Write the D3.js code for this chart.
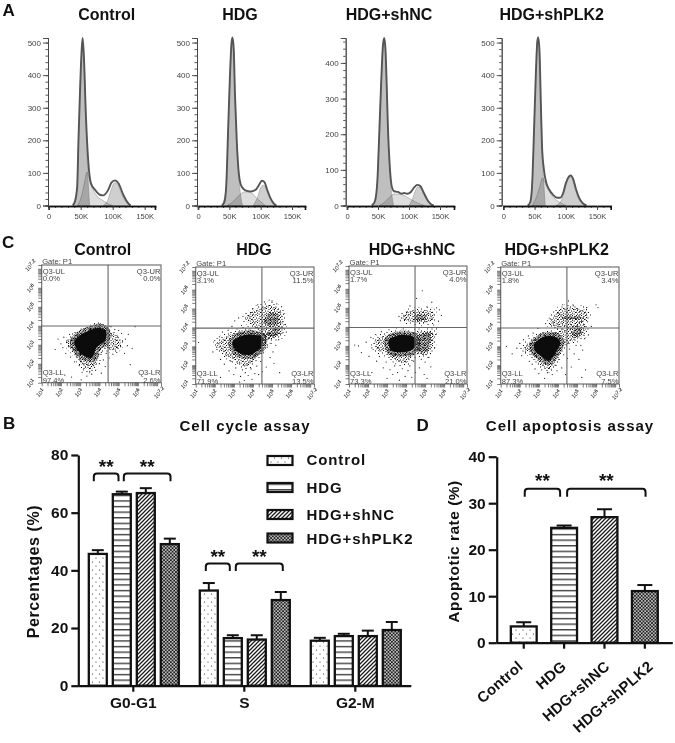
<!DOCTYPE html>
<html><head><meta charset="utf-8">
<script src="https://cdn.jsdelivr.net/npm/d3@7/dist/d3.min.js"></script>
<style>
html,body{margin:0;padding:0;background:#fff}
svg{display:block;font-family:"Liberation Sans",Arial,sans-serif}
.soft{filter:blur(.3px)}
.softer{filter:blur(.5px)}
</style></head><body>
<div id="chart"></div>
<script>
// ---------- shared categories ----------
const treatments = ["Control","HDG","HDG+shNC","HDG+shPLK2"];
const phases = ["G0-G1","S","G2-M"];

// ---------- panel B: cell cycle (%) by phase ----------
const cycleControl = [45.7,33.0,15.6];
const cycleHDG     = [66.4,16.5,17.2];
const cycleShNC    = [66.8,16.0,17.2];
const cycleShPLK2  = [49.1,29.7,19.3];
const cycleErrControl = [1.3,2.6,1.0];
const cycleErrHDG     = [0.9,1.0,0.8];
const cycleErrShNC    = [1.7,1.5,1.9];
const cycleErrShPLK2  = [1.9,2.8,2.8];

// ---------- panel D: apoptotic rate (%) ----------
const apoptosisRate = [3.5,24.7,27.0,11.1];
const apoptosisErr  = [0.9,0.5,1.7,1.3];

// ---------- panel A: DNA histograms, [signal in K, count] ----------
const histTotalControl = [[37.5,0],[41,12],[44.5,58],[46.5,200],[49,355],[51.5,477],[53,514],[55,457],[58,283],[62,130],[66,68],[72.5,48],[80,33],[85,31],[93,48],[98,70],[103.6,77],[109,68],[116.5,33],[124,7],[128,0]];
const histG1Control    = [[38,0],[44,50],[47,220],[49,350],[51.5,470],[53,505],[55,450],[58,280],[60,150],[62,60],[64,0]];
const histSControl     = [[45,0],[50,20],[55,60],[60,103],[63,85],[68,55],[75,30],[85,15],[95,3],[100,0]];
const histG2Control    = [[85,0],[92,15],[98,50],[103,70],[108,65],[112,45],[118,18],[125,3],[128,0]];

const histTotalHDG = [[38,0],[42,10],[45,60],[48,230],[51,400],[53.5,500],[55,516],[57,480],[59,340],[62,190],[65,100],[68,65],[72,52],[78,45],[85,43],[92,48],[97,62],[102,76],[106,72],[110,50],[115,25],[120,8],[125,0]];
const histG1HDG    = [[38,0],[45,55],[48,225],[51,395],[53.5,495],[55,510],[57,475],[59,335],[62,185],[65,90],[68,30],[71,0]];
const histSHDG     = [[46,0],[55,10],[65,30],[75,42],[85,38],[95,20],[107,0]];
const histG2HDG    = [[88,0],[95,25],[100,55],[104,62],[108,55],[113,30],[120,8],[125,0]];

const histTotalShNC = [[40,0],[45,12],[49,70],[52,200],[55,340],[58,450],[60,470],[62,440],[64,340],[66,220],[69,110],[72,55],[76,40],[82,38],[88,33],[92,35],[97,33],[103,38],[109,52],[113,58],[118,55],[124,35],[130,15],[136,3],[140,0]];
const histG1ShNC    = [[40,0],[45,10],[49,65],[52,195],[55,335],[58,445],[60,465],[62,435],[64,335],[66,215],[69,100],[72,35],[75,0]];
const histSShNC     = [[52,0],[60,8],[68,22],[76,32],[84,32],[92,28],[100,20],[110,10],[125,0]];
const histG2ShNC    = [[100,0],[106,20],[110,40],[114,52],[118,50],[124,32],[130,13],[136,2],[140,0]];

const histTotalShPLK2 = [[39,0],[43,10],[46,60],[49,220],[52,400],[54.5,505],[56,516],[58,470],[60,320],[62,180],[65,110],[68,75],[73,50],[80,32],[86,24],[91,24],[96,40],[100,68],[104,86],[108,92],[112,80],[116,52],[121,25],[127,7],[133,0]];
const histG1ShPLK2    = [[39,0],[43,8],[46,55],[49,215],[52,395],[54.5,500],[56,510],[58,465],[60,315],[62,170],[65,60],[67,0]];
const histSShPLK2     = [[46,0],[52,20],[58,55],[63,85],[66,72],[72,48],[80,25],[90,10],[100,0]];
const histG2ShPLK2    = [[84,0],[92,12],[98,45],[103,78],[107,88],[111,78],[115,50],[120,22],[127,5],[132,0]];

// ---------- panel C: flow cytometry, quadrant readouts ----------
const quadUL = ["0.0%","3.1%","1.7%","1.8%"];
const quadUR = ["0.0%","11.5%","4.0%","3.4%"];
const quadLL = ["97.4%","71.9%","73.3%","87.3%"];
const quadLR = ["2.6%","13.5%","21.0%","7.5%"];

// panel C: read-off outlines of the dense clouds and individually visible events,
// in log10 units of each axis [x,y]
const coreControl = [[2.75,3.13],[3.01,3.43],[3.45,3.66],[3.97,3.83],[4.29,3.66],[4.23,3.25],[3.80,2.90],[3.57,2.37],[3.24,2.46],[2.92,2.73]];
const denseControl = [];
const haloControl = [[[2.31,3.08],[2.75,3.52],[3.45,3.83],[4.06,4.01],[4.71,3.61],[5.11,3.13],[4.85,2.73],[4.15,2.81],[3.88,2.11],[3.53,1.67],[3.10,1.93],[2.75,2.55]]];
const eventsControl = [[1.7,2.75],[1.85,3.3],[2.0,3.05],[2.1,2.85],[2.15,3.4],[2.25,2.55],[2.3,3.2],[2.4,2.9],[2.45,3.55],[2.5,2.35],[2.55,3.35],[2.6,2.65],[2.7,2.1],[2.8,2.4],[2.85,3.65],[2.95,1.9],[3.0,2.2],[3.1,1.55],[3.2,1.75],[3.2,3.85],[3.35,1.35],[3.4,1.95],[3.5,1.6],[3.6,1.45],[3.55,3.95],[3.7,1.9],[3.75,2.25],[3.8,1.65],[3.9,2.35],[4.0,2.0],[4.05,4.1],[4.1,2.6],[4.2,2.2],[4.3,1.85],[4.35,2.55],[4.4,3.9],[4.5,2.3],[4.55,2.75],[4.6,3.95],[4.7,2.5],[4.75,3.0],[4.8,3.8],[4.9,2.6],[4.95,3.45],[5.0,3.75],[5.1,2.9],[5.15,3.6],[5.2,3.2],[5.3,2.55],[5.35,3.3],[5.45,2.95],[5.5,3.55],[5.6,1.95],[5.7,2.8],[3.05,1.15],[2.55,1.3],[2.2,1.4],[4.1,1.5],[5.85,3.95]];

const coreHDG = [[2.98,3.17],[3.33,3.46],[3.94,3.55],[4.46,3.43],[4.37,2.99],[3.94,2.64],[3.5,2.64],[3.15,2.81]];
const denseHDG = [[[4.58,4.45],[4.93,4.75],[5.28,4.70],[5.34,4.22],[5.07,4.10],[4.69,4.17]],
                  [[4.76,3.69],[5.16,3.92],[5.42,3.92],[5.25,3.61],[4.86,3.52]]];
const haloHDG = [[[2.10,3.17],[2.80,3.61],[3.59,3.87],[4.37,3.78],[4.76,3.52],[4.55,2.90],[4.11,2.29],[3.59,1.93],[3.15,2.20],[2.45,2.64]],
                 [[3.59,4.49],[4.11,4.93],[4.81,5.19],[5.42,4.93],[5.60,4.22],[5.51,3.61],[4.72,3.34],[4.29,3.87],[3.85,4.22]]];
const eventsHDG = [[1.15,3.2],[1.9,2.7],[2.0,3.3],[2.1,2.95],[2.25,3.5],[2.3,2.3],[2.4,3.75],[2.5,2.05],[2.6,2.5],[2.7,3.85],[2.75,1.7],[2.85,2.2],[2.9,4.05],[3.0,1.5],[3.05,4.35],[3.1,1.85],[3.2,2.1],[3.25,4.5],[3.35,1.4],[3.4,4.1],[3.45,1.75],[3.55,1.2],[3.6,1.6],[3.7,2.0],[3.75,1.45],[3.8,4.6],[3.9,1.8],[3.95,1.25],[4.0,5.0],[4.1,1.55],[4.2,1.95],[4.25,5.2],[4.3,1.5],[4.4,2.2],[4.5,1.65],[4.55,2.65],[4.6,5.35],[4.7,1.9],[4.75,2.95],[4.85,5.45],[4.9,2.4],[4.95,3.15],[5.0,5.4],[5.05,2.7],[5.2,3.05],[5.25,5.25],[5.35,3.35],[5.5,5.1],[5.6,4.7],[5.7,4.15],[5.75,3.75],[3.3,1.1],[2.3,1.35],[5.1,2.1],[5.4,1.6]];

const coreShNC = [[3.15,3.29],[3.76,3.52],[4.37,3.43],[4.46,3.08],[4.2,2.81],[3.59,2.73],[3.24,2.81]];
const denseShNC = [[[4.43,3.43],[5.25,3.69],[5.25,3.17],[4.99,2.64],[4.55,2.81]],
                   [[4.46,4.57],[4.99,4.63],[5.02,4.40],[4.55,4.36]]];
const haloShNC = [[[2.36,3.25],[3.06,3.61],[4.11,3.69],[5.34,3.78],[5.42,3.17],[5.16,2.55],[4.46,2.55],[4.02,2.11],[3.5,2.20],[2.89,2.64],[2.45,2.81]],
                  [[3.76,4.57],[4.29,4.84],[5.34,4.84],[5.42,4.40],[4.99,4.22],[4.02,4.31]]];
const eventsShNC = [[1.5,3.0],[1.65,2.65],[1.9,3.2],[2.05,2.45],[2.15,3.45],[2.2,2.9],[2.4,3.6],[2.45,2.2],[2.6,2.45],[2.7,3.75],[2.8,1.85],[2.95,2.15],[3.0,1.3],[3.1,3.85],[3.15,1.75],[3.3,1.5],[3.4,1.95],[3.5,3.95],[3.55,1.6],[3.65,1.2],[3.7,4.35],[3.8,1.8],[3.85,3.9],[3.95,1.4],[4.05,4.8],[4.1,1.7],[4.2,1.95],[4.2,5.1],[4.3,1.35],[4.4,2.2],[4.5,1.6],[4.55,5.5],[4.7,1.85],[4.8,2.3],[4.85,5.9],[4.95,1.5],[5.0,2.15],[5.1,5.05],[5.2,2.4],[5.3,1.9],[5.35,5.3],[5.5,2.9],[5.55,3.6],[5.6,3.9],[5.7,4.3],[5.75,4.9],[5.6,5.0],[5.1,1.3],[2.2,1.6],[1.3,3.05],[5.85,4.6],[5.45,4.1]];

const coreShPLK2 = [[2.80,3.08],[3.24,3.43],[3.76,3.46],[4.06,3.22],[3.85,2.73],[3.5,2.29],[3.15,2.55],[2.89,2.73]];
const denseShPLK2 = [[[4.25,4.58],[5.2,4.58],[5.2,4.46],[4.25,4.46]],
                     [[4.7,3.75],[5.1,3.95],[5.25,3.75],[4.9,3.5]]];
const haloShPLK2 = [[[2.19,2.90],[2.8,3.43],[3.67,3.69],[4.55,3.96],[5.34,4.22],[5.42,3.69],[4.9,3.34],[4.29,2.99],[3.94,2.37],[3.59,1.76],[3.06,2.02],[2.63,2.55]],
                    [[3.59,4.13],[4.2,5.01],[5.42,4.93],[5.51,4.49],[4.9,4.05]]];
const eventsShPLK2 = [[1.3,3.0],[1.6,2.6],[1.85,2.9],[2.0,3.15],[2.1,2.5],[2.2,3.35],[2.3,2.7],[2.45,3.55],[2.5,2.2],[2.65,2.05],[2.7,3.7],[2.8,1.8],[2.95,3.95],[3.0,1.55],[3.15,1.75],[3.3,1.3],[3.35,4.2],[3.45,1.6],[3.6,4.45],[3.7,1.5],[3.8,4.1],[3.85,2.0],[3.95,1.7],[4.05,2.3],[4.1,4.7],[4.2,1.85],[4.25,5.2],[4.3,2.55],[4.4,1.5],[4.5,2.35],[4.55,5.4],[4.6,2.85],[4.7,1.9],[4.8,5.15],[4.85,2.6],[4.95,3.05],[5.0,5.0],[5.1,2.3],[5.15,4.85],[5.2,3.05],[5.3,2.8],[5.4,3.4],[5.45,1.75],[5.5,5.05],[5.6,3.6],[5.75,4.05],[6.0,5.2],[6.1,5.05],[5.55,4.3],[5.25,1.35]];

// ---------- drawing ----------
const W = 675, H = 743;
const svg = d3.select("#chart").append("svg").attr("width",W).attr("height",H).attr("viewBox",[0,0,W,H]);
const INK = "#111";

// fill patterns
const defs = svg.append("defs");
function tile(id,w,h,bg){
  const p = defs.append("pattern").attr("id",id).attr("patternUnits","userSpaceOnUse").attr("width",w).attr("height",h);
  p.append("rect").attr("width",w).attr("height",h).attr("fill",bg);
  return p;
}
const pDots = tile("pDots",7,8,"#fff");
[[1.5,2],[5,6]].forEach(d=>pDots.append("circle").attr("cx",d[0]).attr("cy",d[1]).attr("r",.62).attr("fill","#222"));
const pStripes = tile("pStripes",5,5.6,"#fff");
pStripes.append("rect").attr("y",2).attr("width",5).attr("height",1.2).attr("fill","#222");
const pHatch = tile("pHatch",4,4,"#fff");
pHatch.append("path").attr("d","M-1,1L1,-1M0,4L4,0M3,5L5,3").attr("stroke","#1a1a1a").attr("stroke-width",1.25);
const pCheck = tile("pCheck",3.4,3.4,"#222");
[[.85,.85],[2.55,2.55]].forEach(d=>pCheck.append("circle").attr("cx",d[0]).attr("cy",d[1]).attr("r",.85).attr("fill","#eee"));
const treatmentFill = d3.scaleOrdinal().domain(treatments).range(["url(#pDots)","url(#pStripes)","url(#pHatch)","url(#pCheck)"]);

// stipple textures for the flow-cytometry clouds (fixed tiles, hand placed)
function stippleTile(id,w,h,dots){
  const p = tile(id,w,h,"none");
  dots.forEach(d=>p.append("rect").attr("x",d[0]).attr("y",d[1]).attr("width",1).attr("height",1).attr("fill","#0c0c0c"));
}
stippleTile("pSparse",13,11,[[1,1],[5,.5],[9.5,2],[3,4],[7,3.5],[11.5,5],[.5,7],[5,6.5],[8.5,8],[2.5,9.5],[11,9.5]]);
stippleTile("pStipple",9,7,[[0,0],[2.5,.5],[5,0],[7.5,1],[1,2],[4,2.5],[6.5,2.8],[0,3.7],[2.5,4],[8,4],[5,4.7],[1,5.7],[3.5,6],[6.7,5.6]]);
stippleTile("pDense",5,5,[[0,0],[1.6,.5],[3.4,0],[.5,1.6],[2.4,1.8],[4,1.6],[0,3],[1.7,3.3],[3.2,3.2],[.8,4.2],[2.6,4.5],[4,4.2]]);

// section letters and titles
const boldText = (x,y,t,size,anchor="middle",spacing=0,g=svg)=>g.append("text").attr("x",x).attr("y",y)
  .attr("text-anchor",anchor).attr("font-weight","bold").attr("font-size",size).attr("letter-spacing",spacing).attr("fill",INK).text(t);
[["A",2.5,16],["C",2,248],["B",3,429],["D",416.5,431]].forEach(d=>boldText(d[1],d[2],d[0],17,"start"));

// ---- panel A ----
const histPanels = [
 {name:treatments[0],title:106.7,axis:48,x0:48.7,k:.64,xEnd:155,yMax:514,ticks:[0,100,200,300,400,500],total:histTotalControl,g1:histG1Control,s:histSControl,g2:histG2Control},
 {name:treatments[1],title:240,axis:197,x0:198,k:.627,xEnd:305,yMax:514,ticks:[0,100,200,300,400,500],total:histTotalHDG,g1:histG1HDG,s:histSHDG,g2:histG2HDG},
 {name:treatments[2],title:389,axis:345.7,x0:347,k:.62,xEnd:454,yMax:470,ticks:[0,100,200,300,400],total:histTotalShNC,g1:histG1ShNC,s:histSShNC,g2:histG2ShNC},
 {name:treatments[3],title:551.7,axis:501.7,x0:503.3,k:.625,xEnd:610.7,yMax:514,ticks:[0,100,200,300,400,500],total:histTotalShPLK2,g1:histG1ShPLK2,s:histSShPLK2,g2:histG2ShPLK2}
];
histPanels.forEach(p=>{
  boldText(p.title,20,p.name,16);
  const g = svg.append("g").attr("class","softer");
  const x = d3.scaleLinear().domain([0,(p.xEnd-p.x0)/p.k]).range([p.x0,p.xEnd]);
  const y = d3.scaleLinear().domain([0,p.yMax]).range([205.5,38]);
  const area = d3.area().x(d=>x(d[0])).y0(y(0)).y1(d=>y(d[1])).curve(d3.curveMonotoneX);
  const line = d3.line().x(d=>x(d[0])).y(d=>y(d[1])).curve(d3.curveMonotoneX);
  [[p.g2,"#cfcfcf"],[p.s,"#dedede"],[p.g1,"#bfbfbf"]].forEach(c=>
    g.append("path").datum(c[0]).attr("d",area).attr("fill",c[1]).attr("stroke","#999").attr("stroke-width",.6).style("mix-blend-mode","multiply"));
  g.append("path").datum(p.total).attr("d",line).attr("fill","none").attr("stroke","#555").attr("stroke-width",1.9);
  // y axis
  const minor = d3.range(0,p.yMax,20);
  const yAx = g.append("g").attr("transform",`translate(${p.axis},0)`).call(d3.axisLeft(y).tickValues(minor).tickSize(2.5).tickFormat(""));
  const yMaj = g.append("g").attr("transform",`translate(${p.axis},0)`).call(d3.axisLeft(y).tickValues(p.ticks).tickSize(5).tickPadding(2));
  [yAx,yMaj].forEach(a=>{a.selectAll("path,line").attr("stroke","#444").attr("stroke-width",.9);});
  yMaj.selectAll("text").attr("font-size",8).attr("font-family",null).attr("fill","#444");
  // x axis
  const xAx = g.append("g").attr("transform",`translate(0,206)`).call(d3.axisBottom(x).tickValues(d3.range(0,170,10)).tickSize(2).tickFormat(""));
  const xMaj = g.append("g").attr("transform",`translate(0,206)`).call(d3.axisBottom(x).tickValues([0,50,100,150]).tickSize(4).tickPadding(4).tickFormat(d=>d?d+"K":"0"));
  xAx.selectAll("line").attr("stroke","#444");xMaj.selectAll("line").attr("stroke","#444");
  xAx.select("path").attr("stroke","#111").attr("stroke-width",1.6);
  xMaj.select("path").attr("stroke","#111").attr("stroke-width",1.6);
  xMaj.selectAll("text").attr("font-size",7.6).attr("font-family",null).attr("fill","#444");
});

// ---- panel C ----
const flowPanels = [
 {left:41.7,right:161,top:265,bottom:382.7,title:102.7,cut:[4.45,3.99],core:coreControl,dense:denseControl,halo:haloControl,events:eventsControl},
 {left:195.7,right:314,top:267,bottom:384,title:254,cut:[4.47,3.96],core:coreHDG,dense:denseHDG,halo:haloHDG,events:eventsHDG},
 {left:349,right:467,top:266,bottom:384,title:412,cut:[4.47,3.97],core:coreShNC,dense:denseShNC,halo:haloShNC,events:eventsShNC},
 {left:500.7,right:619,top:267,bottom:384,title:556.7,cut:[4.47,3.97],core:coreShPLK2,dense:denseShPLK2,halo:haloShPLK2,events:eventsShPLK2}
];
const decades = d3.range(1,8);
const logMinor = d3.range(1,7).flatMap(d=>d3.range(2,10).map(k=>d+Math.log10(k))).filter(v=>v<7.2);
const blob = d3.line().curve(d3.curveCardinalClosed.tension(.3));
flowPanels.forEach((p,i)=>{
  boldText(p.title,255,treatments[i],16);
  const g = svg.append("g").attr("class","softer");
  const x = d3.scaleLinear().domain([1,7.2]).range([p.left,p.right]);
  const y = d3.scaleLinear().domain([1,7.2]).range([p.bottom,p.top]);
  const toPx = r=>r.map(d=>[x(d[0]),y(d[1])]);
  p.halo.forEach(r=>g.append("path").attr("d",blob(toPx(r))).attr("fill","url(#pStipple)").attr("stroke","url(#pSparse)").attr("stroke-width",7));
  p.dense.forEach(r=>g.append("path").attr("d",blob(toPx(r))).attr("fill","url(#pDense)").attr("stroke","url(#pStipple)").attr("stroke-width",3));
  g.append("path").attr("d",blob(toPx(p.core))).attr("fill","none").attr("stroke","url(#pDense)").attr("stroke-width",11);
  g.append("path").attr("d",blob(toPx(p.core))).attr("fill","#0c0c0c").attr("stroke","#0c0c0c").attr("stroke-width",2.5);
  g.selectAll("circle.ev").data(p.events).join("circle").attr("cx",d=>x(d[0])).attr("cy",d=>y(d[1])).attr("r",.6).attr("fill","#111");
  // frame and gates
  g.append("rect").attr("x",p.left).attr("y",p.top).attr("width",p.right-p.left).attr("height",p.bottom-p.top).attr("fill","none").attr("stroke","#666").attr("stroke-width",1.1);
  g.append("line").attr("x1",x(p.cut[0])).attr("x2",x(p.cut[0])).attr("y1",p.top).attr("y2",p.bottom).attr("stroke","#666").attr("stroke-width",1.1);
  g.append("line").attr("x1",p.left).attr("x2",p.right).attr("y1",y(p.cut[1])).attr("y2",y(p.cut[1])).attr("stroke","#666").attr("stroke-width",1.1);
  // log ticks
  const bAx = g.append("g").attr("transform",`translate(0,${p.bottom})`).call(d3.axisBottom(x).tickValues(logMinor.concat(decades,[7.2])).tickSize(3.5).tickFormat(""));
  const lAx = g.append("g").attr("transform",`translate(${p.left},0)`).call(d3.axisLeft(y).tickValues(logMinor.concat(decades,[7.2])).tickSize(3.5).tickFormat(""));
  [bAx,lAx].forEach(a=>{a.select("path").remove();a.selectAll("line").attr("stroke","#444").attr("stroke-width",.7);});
  // rotated tick labels
  const lab = (px,py,sup)=>{
    const t = g.append("text").attr("transform",`translate(${px},${py}) rotate(-45)`).attr("text-anchor","middle").attr("font-size",5.8).attr("fill","#333");
    t.append("tspan").text("10");
    t.append("tspan").attr("dy",-1.8).attr("font-size",5).attr("font-weight","bold").text(sup);
  };
  decades.concat([7.2]).filter(d=>d!==7).forEach(d=>lab(x(d),p.bottom+11.5,d));
  [1,2,3,4,5,6,7.2].forEach(d=>lab(p.left-9.5,y(d)+2,d));
  // quadrant labels
  const small=(tx,ty,t,a="start")=>g.append("text").attr("x",tx).attr("y",ty).attr("text-anchor",a).attr("font-size",7.6).attr("fill","#444").text(t);
  small(p.left+.5,p.top-1.5,"Gate: P1");
  small(p.left+1,p.top+8.5,"Q3-UL");small(p.left+1,p.top+16,quadUL[i]);
  small(p.right-.5,p.top+8.5,"Q3-UR","end");small(p.right-.5,p.top+16,quadUR[i],"end");
  small(p.left+1,p.bottom-7.8,"Q3-LL");small(p.left+1,p.bottom,quadLL[i]);
  small(p.right-.5,p.bottom-7.8,"Q3-LR","end");small(p.right-.5,p.bottom,quadLR[i],"end");
});

// helpers for bar charts
function bracket(g,x1,x2,yTop,drop){
  const r=3.2,p=d3.path();
  p.moveTo(x1,yTop+drop);p.lineTo(x1,yTop+r);p.quadraticCurveTo(x1,yTop,x1+r,yTop);
  p.lineTo(x2-r,yTop);p.quadraticCurveTo(x2,yTop,x2,yTop+r);p.lineTo(x2,yTop+drop);
  g.append("path").attr("d",p.toString()).attr("fill","none").attr("stroke",INK).attr("stroke-width",2);
}
function stars(g,x,yCenter){boldText(x,yCenter+10.5,"**",19,"middle",0,g);}
function yAxisStyled(g,scale,axisX,ticks,len){
  const a=g.append("g").attr("transform",`translate(${axisX},0)`).call(d3.axisLeft(scale).tickValues(ticks).tickSize(len).tickSizeOuter(0).tickPadding(3));
  a.selectAll("path,line").attr("stroke",INK).attr("stroke-width",2.2);
  a.selectAll("text").attr("font-size",15.5).attr("font-weight","bold").attr("font-family",null).attr("fill",INK);
  return a;
}
function errorBar(g,cx,yv,yt,cap){
  g.append("line").attr("x1",cx).attr("x2",cx).attr("y1",yv).attr("y2",yt).attr("stroke",INK).attr("stroke-width",2);
  g.append("line").attr("x1",cx-cap).attr("x2",cx+cap).attr("y1",yt).attr("y2",yt).attr("stroke",INK).attr("stroke-width",2);
}

// ---- panel B ----
const gB = svg.append("g").attr("class","soft");
boldText(245,431,"Cell cycle assay",15,"middle",1,gB);
const xB = d3.scaleBand().domain(phases).range([77.8,410.8]);
const xBi = d3.scaleBand().domain(treatments).range([11,101]).paddingInner(.25);
const yB = d3.scaleLinear().domain([0,80]).range([685.7,455]);
const cycleSeries = [cycleControl,cycleHDG,cycleShNC,cycleShPLK2];
const cycleErrs = [cycleErrControl,cycleErrHDG,cycleErrShNC,cycleErrShPLK2];
const barB = (ph,tr)=>xB(ph)+xBi(tr)+xBi.bandwidth()/2;
treatments.forEach((t,si)=>{
  phases.forEach((ph,pi)=>{
    const v=cycleSeries[si][pi],e=cycleErrs[si][pi];
    errorBar(gB,barB(ph,t),yB(v),yB(v+e),6);
    gB.append("rect").attr("x",xB(ph)+xBi(t)).attr("y",yB(v)).attr("width",xBi.bandwidth()).attr("height",yB(0)-yB(v))
      .attr("fill",treatmentFill(t)).attr("stroke",INK).attr("stroke-width",2.3);
  });
});
yAxisStyled(gB,yB,78.3,[0,20,40,60,80],7);
const xAxB = gB.append("g").attr("transform",`translate(0,${yB(0)})`).call(d3.axisBottom(xB).tickSize(6).tickSizeOuter(0).tickPadding(5));
xAxB.selectAll("path,line").attr("stroke",INK).attr("stroke-width",2.2);
xAxB.selectAll("text").attr("font-size",15.5).attr("font-weight","bold").attr("font-family",null).attr("fill",INK);
gB.append("text").attr("transform","translate(38.5,571.5) rotate(-90)").attr("text-anchor","middle").attr("font-weight","bold").attr("font-size",16).attr("letter-spacing",.6).attr("fill",INK).text("Percentages (%)");
// significance brackets
const t0=treatments;
[[phases[0],t0[0],-4,t0[1],-3.3,73.6,7.7],[phases[0],t0[1],2,t0[3],.7,73.6,7.7],[phases[1],t0[0],-3,t0[1],-3,42.4,7.5],[phases[1],t0[1],3,t0[3],2,42.4,7.5]].forEach(b=>{
  const xa=barB(b[0],b[1])+b[2],xb=barB(b[0],b[3])+b[4];
  bracket(gB,xa,xb,yB(b[5]),b[6]);
  stars(gB,(xa+xb)/2,yB(b[5])-11);
});
// legend
[[455,460],[482,487.3],[509,514.3],[532.5,538.3]].forEach((l,i)=>{
  gB.append("rect").attr("x",267.5).attr("y",l[0]+1).attr("width",25).attr("height",9).attr("fill",treatmentFill(treatments[i])).attr("stroke",INK).attr("stroke-width",2.2);
  boldText(306.5,l[1]+5.3,treatments[i],15,"start",.9,gB);
});

// ---- panel D ----
const gD = svg.append("g").attr("class","soft");
boldText(570,431,"Cell apoptosis assay",15,"middle",1,gD);
const xD = d3.scaleBand().domain(treatments).range([496.3,672.3]).padding(.36);
const yD = d3.scaleLinear().domain([0,40]).range([642.7,456.7]);
treatments.forEach((t,i)=>{
  const v=apoptosisRate[i],e=apoptosisErr[i],cx=xD(t)+xD.bandwidth()/2;
  errorBar(gD,cx,yD(v),yD(v+e),7.5);
  gD.append("rect").attr("x",xD(t)).attr("y",yD(v)).attr("width",xD.bandwidth()).attr("height",yD(0)-yD(v))
    .attr("fill",treatmentFill(t)).attr("stroke",INK).attr("stroke-width",2.3);
});
yAxisStyled(gD,yD,496.7,[0,10,20,30,40],8);
const xAxD = gD.append("g").attr("transform",`translate(0,${yD(0)})`).call(d3.axisBottom(xD).tickSize(6).tickSizeOuter(0).tickFormat(""));
xAxD.selectAll("path,line").attr("stroke",INK).attr("stroke-width",2.2);
treatments.forEach((t,i)=>{
  const cx=xD(t)+xD.bandwidth()/2;
  gD.append("text").attr("transform",`translate(${cx+i*3},668) rotate(-41)`).attr("text-anchor","end")
    .attr("font-weight","bold").attr("font-size",15).attr("letter-spacing",.2).attr("fill",INK).text(t);
});
gD.append("text").attr("transform","translate(458.5,551.5) rotate(-90)").attr("text-anchor","middle").attr("font-weight","bold").attr("font-size",15.5).attr("letter-spacing",.5).attr("fill",INK).text("Apoptotic rate (%)");
const cxD=t=>xD(t)+xD.bandwidth()/2;
[[t0[0],1,t0[1],-4,33.1],[t0[1],3,t0[3],.7,33.1]].forEach(b=>{
  const xa=cxD(b[0])+b[1],xb=cxD(b[2])+b[3];
  bracket(gD,xa,xb,yD(b[4]),8);
  stars(gD,(xa+xb)/2,yD(b[4])-12);
});
</script>
</body></html>
